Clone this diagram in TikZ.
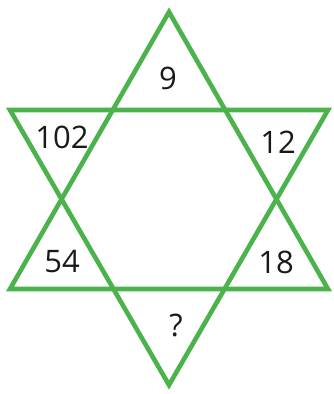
\documentclass[tikz,border=0pt]{standalone}
\usepackage{fontspec}
\setmainfont{Open Sans}
\usepackage{tikz}

\definecolor{stargreen}{RGB}{76,178,76}

\begin{document}
\begin{tikzpicture}[
        x=1pt, y=-1pt,
        edge/.style={draw=stargreen, line width=4.6pt, line join=miter},
        num/.style={font=\fontsize{31}{34}\selectfont, text=black!90, inner sep=0pt}
    ]
        \useasboundingbox (0,0) rectangle (334,394);

        % upward triangle
        \coordinate (upA) at (169,12);
        \coordinate (upL) at (10,289);
        \coordinate (upR) at (328,289);
        % downward triangle
        \coordinate (dnL) at (10,110);
        \coordinate (dnR) at (328,110);
        \coordinate (dnB) at (169,385);

        \draw[edge] (upA) -- (upL) -- (upR) -- cycle;
        \draw[edge] (dnL) -- (dnR) -- (dnB) -- cycle;

        \node[num] (top) at (168,78) {9};
        \node[num] (tl) at (62,137) {102};
        \node[num] (tr) at (278,142) {12};
        \node[num] (bl) at (62,262) {54};
        \node[num] (br) at (276,262) {18};
        \node[num] (bot) at (176,325) {?};
    \end{tikzpicture}
\end{document}
